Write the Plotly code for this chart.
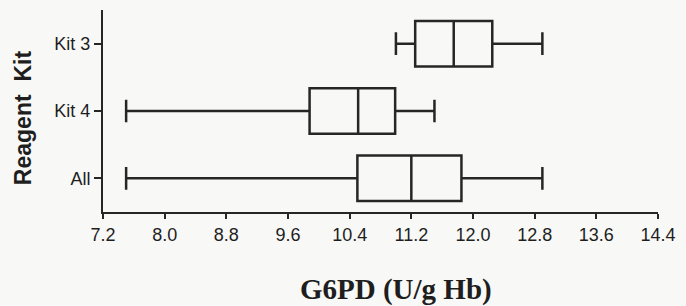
import plotly.graph_objects as go

categories = ["All", "Kit 4", "Kit 3"]
lower_whisker = [7.5, 7.5, 11.0]
q1_values = [10.5, 9.88, 11.25]
median_values = [11.2, 10.51, 11.75]
q3_values = [11.85, 10.99, 12.25]
upper_whisker = [12.9, 11.5, 12.9]
x_ticks = [7.2, 8.0, 8.8, 9.6, 10.4, 11.2, 12.0, 12.8, 13.6, 14.4]
x_tick_labels = ["7.2", "8.0", "8.8", "9.6", "10.4", "11.2", "12.0", "12.8", "13.6", "14.4"]

bg = "#f8f8f6"
ink = "#262626"

fig = go.Figure()
fig.add_trace(go.Box(
    y=categories,
    q1=q1_values,
    median=median_values,
    q3=q3_values,
    lowerfence=lower_whisker,
    upperfence=upper_whisker,
    orientation="h",
    width=0.675,
    whiskerwidth=0.5,
    fillcolor="rgba(0,0,0,0)",
    line=dict(color=ink, width=2.5),
    boxpoints=False,
    hoverinfo="skip",
    showlegend=False,
))

fig.update_layout(
    width=686, height=306,
    margin=dict(l=103, r=26, t=10, b=94),
    paper_bgcolor=bg, plot_bgcolor=bg,
    font=dict(family="Liberation Sans, Arial, sans-serif", size=18, color="#1e1e1e"),
    xaxis=dict(
        range=[7.2, 14.4], tickvals=x_ticks, ticktext=x_tick_labels,
        showgrid=False, zeroline=False, showline=True, linecolor=ink, linewidth=2,
        ticks="outside", ticklen=5, tickwidth=2, tickcolor=ink,
        tickfont=dict(size=18),
    ),
    yaxis=dict(
        categoryorder="array", categoryarray=categories, range=[-0.5, 2.5],
        showgrid=False, zeroline=False, showline=True, linecolor=ink, linewidth=2,
        ticks="outside", ticklen=7, tickwidth=1.5, tickcolor=ink,
        tickfont=dict(size=18),
    ),
    annotations=[
        dict(text="G6PD (U/g Hb)", xref="paper", yref="paper", x=0.5276, y=-0.385,
             xanchor="center", yanchor="middle", showarrow=False,
             font=dict(family="Liberation Serif, Times New Roman, serif", size=29, color="#1e1e1e", weight="bold")),
        dict(text="Reagent\u00a0 Kit", xref="paper", yref="paper", x=-0.1442, y=0.4695,
             xanchor="center", yanchor="middle", showarrow=False, textangle=-90,
             font=dict(family="Liberation Sans, Arial, sans-serif", size=23, color="#1e1e1e", weight="bold")),
    ],
)

fig.write_html(
    "out.html",
    config={"displayModeBar": False},
    post_script="document.body.style.margin='0';document.body.style.background='%s';" % bg,
)
